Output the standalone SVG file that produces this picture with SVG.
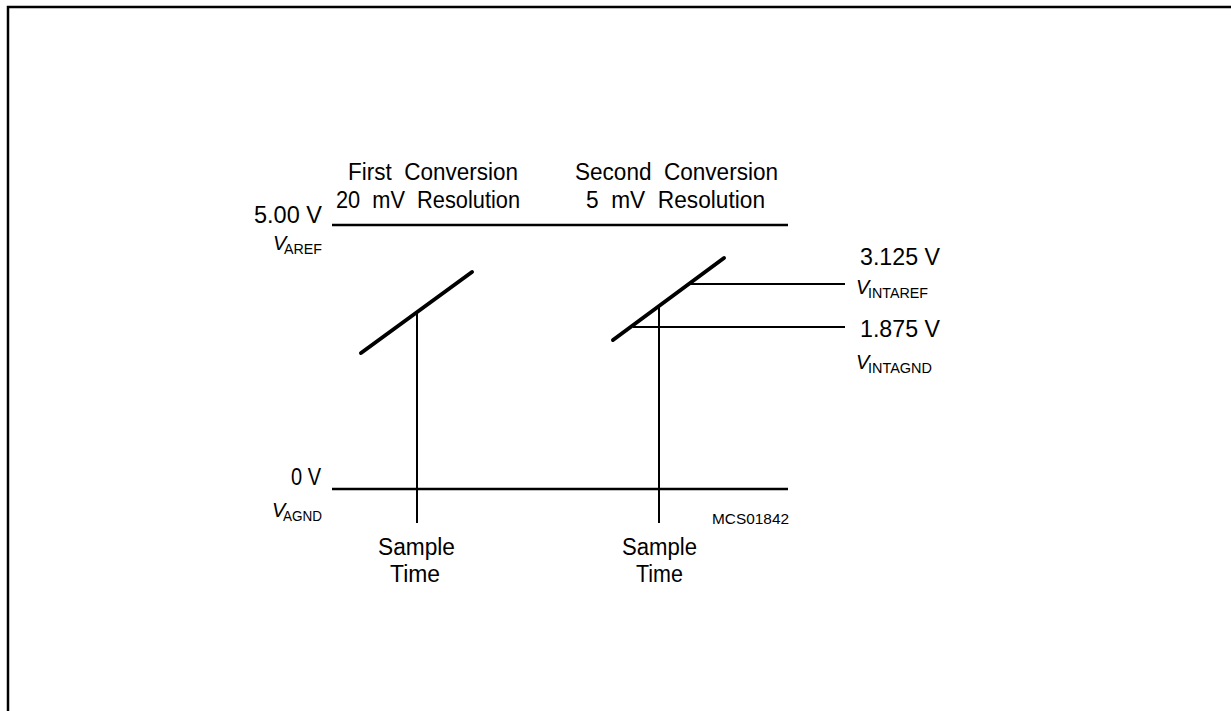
<svg xmlns="http://www.w3.org/2000/svg" width="1231" height="711" viewBox="0 0 1231 711">
<style>
text{font-family:"Liberation Sans",Arial,sans-serif;font-size:23px;fill:#000}
.sub{font-size:14.5px;font-style:normal}
.v{font-size:20px;font-style:italic}
.small{font-size:15px}
.ln{stroke:#000;stroke-width:2.5;fill:none}
.thin{stroke:#000;stroke-width:2;fill:none}
.ramp{stroke:#000;stroke-width:4;fill:none;stroke-linecap:round}
</style>
<rect width="1231" height="711" fill="#fff"/>
<path d="M8,711 V7 H1231" stroke="#000" stroke-width="2.5" fill="none"/>
<g id="connectors">
<line class="ln" x1="332" y1="225" x2="788" y2="225"/>
<line class="ln" x1="332" y1="489" x2="788" y2="489"/>
<line class="thin" x1="417" y1="313" x2="417" y2="523"/>
<line class="thin" x1="659" y1="307" x2="659" y2="523"/>
<line class="thin" x1="690" y1="284" x2="845" y2="284"/>
<line class="thin" x1="633" y1="327" x2="845" y2="327"/>
</g>
<g id="ramp1"><line class="ramp" x1="361" y1="353" x2="472" y2="272"/></g>
<g id="ramp2"><line class="ramp" x1="613" y1="340" x2="724" y2="258"/></g>
<g id="header1">
<text x="348" y="180" textLength="170" lengthAdjust="spacingAndGlyphs" xml:space="preserve">First  Conversion</text>
<text x="336" y="208" textLength="184" lengthAdjust="spacingAndGlyphs" xml:space="preserve">20  mV  Resolution</text>
</g>
<g id="header2">
<text x="575" y="180" textLength="203" lengthAdjust="spacingAndGlyphs" xml:space="preserve">Second  Conversion</text>
<text x="586" y="208" textLength="179" lengthAdjust="spacingAndGlyphs" xml:space="preserve">5  mV  Resolution</text>
</g>
<g id="label-aref">
<text x="254" y="223" textLength="68" lengthAdjust="spacingAndGlyphs">5.00 V</text>
<text y="250"><tspan class="v" x="273">V</tspan><tspan class="sub" x="284" y="254" textLength="38" lengthAdjust="spacingAndGlyphs">AREF</tspan></text>
</g>
<g id="label-agnd">
<text x="291" y="485" textLength="30" lengthAdjust="spacingAndGlyphs">0 V</text>
<text y="517"><tspan class="v" x="272">V</tspan><tspan class="sub" x="283" y="521" textLength="39" lengthAdjust="spacingAndGlyphs">AGND</tspan></text>
</g>
<g id="label-intaref">
<text x="860" y="265" textLength="80" lengthAdjust="spacingAndGlyphs">3.125 V</text>
<text y="294"><tspan class="v" x="856">V</tspan><tspan class="sub" x="868" y="298" textLength="60" lengthAdjust="spacingAndGlyphs">INTAREF</tspan></text>
</g>
<g id="label-intagnd">
<text x="860" y="337" textLength="80" lengthAdjust="spacingAndGlyphs">1.875 V</text>
<text y="369"><tspan class="v" x="856">V</tspan><tspan class="sub" x="868" y="373" textLength="64" lengthAdjust="spacingAndGlyphs">INTAGND</tspan></text>
</g>
<g id="sample1">
<text x="378" y="555" textLength="77" lengthAdjust="spacingAndGlyphs">Sample</text>
<text x="390" y="582" textLength="50" lengthAdjust="spacingAndGlyphs">Time</text>
</g>
<g id="sample2">
<text x="622" y="555" textLength="75" lengthAdjust="spacingAndGlyphs">Sample</text>
<text x="636" y="582" textLength="47" lengthAdjust="spacingAndGlyphs">Time</text>
</g>
<g id="code"><text class="small" x="712" y="524" textLength="77" lengthAdjust="spacingAndGlyphs">MCS01842</text></g>
</svg>
